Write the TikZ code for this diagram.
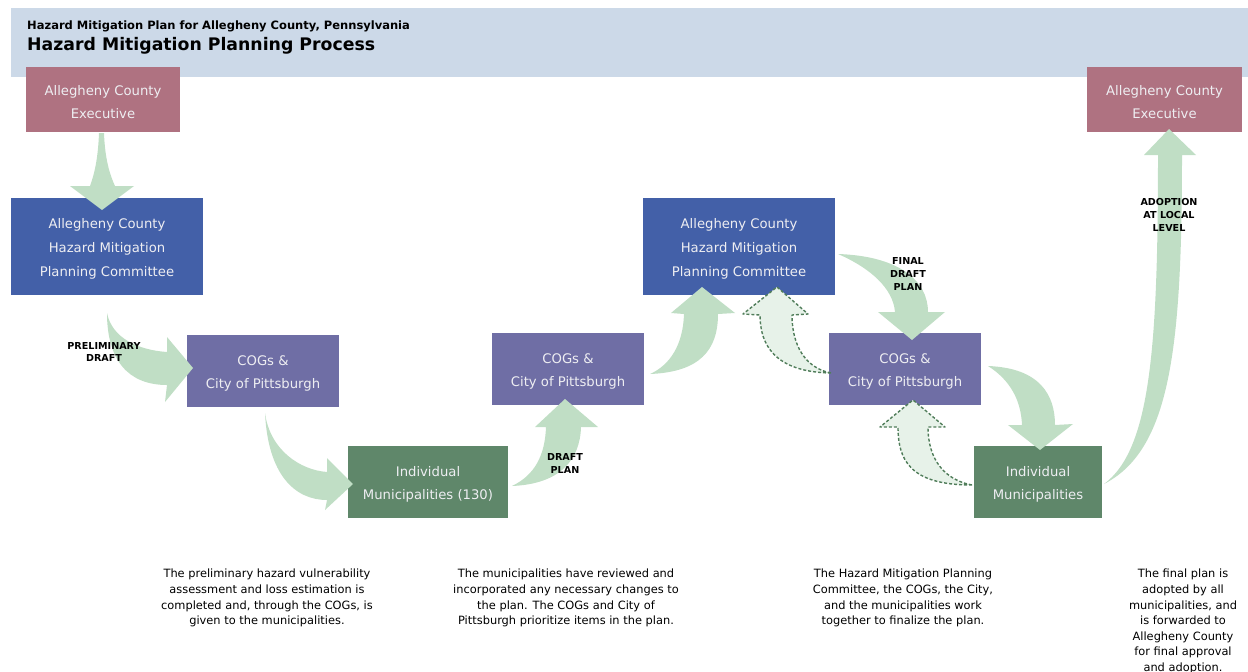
\documentclass[tikz,border=0pt]{standalone}
\usepackage{fontspec}
\setmainfont{DejaVu Sans}
\definecolor{headbg}{RGB}{204,217,232}
\definecolor{execc}{RGB}{175,114,129}
\definecolor{hmpcc}{RGB}{67,96,168}
\definecolor{cogsc}{RGB}{111,110,165}
\definecolor{munic}{RGB}{95,135,106}
\definecolor{flowc}{RGB}{192,222,197}
\definecolor{backfill}{RGB}{231,242,233}
\definecolor{backline}{RGB}{80,125,90}
\definecolor{boxtext}{RGB}{238,238,242}
\newcommand{\topstrut}{\rule{0pt}{15pt}}
\tikzset{
  box/.style={inner sep=0, text=boxtext, align=center, font=\fontsize{13.2}{23.7}\selectfont},
  flow/.style={fill=flowc, draw=none},
  back/.style={fill=backfill, draw=backline, line width=1.4pt, dash pattern=on 3pt off 2pt, line join=round},
  lbl/.style={font=\fontsize{9.6}{12.8}\selectfont\bfseries, align=center, inner sep=0},
  note/.style={font=\fontsize{11.4}{15.6}\selectfont, align=center, anchor=north, inner sep=0}
}
\begin{document}
\begin{tikzpicture}[x=1pt,y=-1pt]
\useasboundingbox (0,0) rectangle (1248,672);
% header
\fill[headbg] (11,8) rectangle (1248,77);
\node[anchor=west, inner sep=0, font=\fontsize{11.5}{13}\selectfont\bfseries] (subtitle) at (27,26) {Hazard Mitigation Plan for Allegheny County, Pennsylvania};
\node[anchor=west, inner sep=0, font=\fontsize{17.3}{20}\selectfont\bfseries] (title) at (27,46) {Hazard Mitigation Planning Process};
% boxes
\node[box, fill=execc, minimum width=154, minimum height=65] (exec1) at (103,99.5) {\topstrut Allegheny County\\Executive};
\node[box, fill=execc, minimum width=155, minimum height=65] (exec2) at (1164.5,99.5) {\topstrut Allegheny County\\Executive};
\node[box, fill=hmpcc, minimum width=192, minimum height=97] (hmpc1) at (107,246.5) {\topstrut Allegheny County\\Hazard Mitigation\\Planning Committee};
\node[box, fill=hmpcc, minimum width=192, minimum height=97] (hmpc2) at (739,246.5) {\topstrut Allegheny County\\Hazard Mitigation\\Planning Committee};
\node[box, fill=cogsc, minimum width=152, minimum height=72] (cogs1) at (263,371) {\topstrut COGs \&\\City of Pittsburgh};
\node[box, fill=cogsc, minimum width=152, minimum height=72] (cogs2) at (568,369) {\topstrut COGs \&\\City of Pittsburgh};
\node[box, fill=cogsc, minimum width=152, minimum height=72] (cogs3) at (905,369) {\topstrut COGs \&\\City of Pittsburgh};
\node[box, fill=munic, minimum width=160, minimum height=72] (muni1) at (428,482) {\topstrut Individual\\Municipalities (130)};
\node[box, fill=munic, minimum width=128, minimum height=72] (muni2) at (1038,482) {\topstrut Individual\\Municipalities};
% flow arrows
\fill[flow] (99,133) .. controls (98,160) and (94,175) .. (90,186) -- (70,186) -- (102,210) -- (134,186) -- (115,186) .. controls (110,175) and (105,160) .. (104,133) -- cycle;
\fill[flow] (107,313) .. controls (107,360) and (128,385) .. (167,385) -- (165,402) -- (193,368) -- (167,337) -- (167,352) .. controls (138,350) and (112,338) .. (107,313) -- cycle;
\fill[flow] (265,413) .. controls (268,475) and (295,500) .. (327,500) -- (325,510) -- (353,484) -- (327,458) -- (327,472) .. controls (300,470) and (270,450) .. (265,413) -- cycle;
\fill[flow] (512,486) .. controls (560,484) and (580,460) .. (581,427) -- (598,427) -- (565,399) -- (535,427) -- (546,427) .. controls (545,455) and (535,475) .. (512,486) -- cycle;
\fill[flow] (650,374) .. controls (700,372) and (718,350) .. (718,314) -- (735,313) -- (702,287) -- (671,313) -- (684,314) .. controls (683,345) and (670,365) .. (650,374) -- cycle;
\fill[flow] (838,254) .. controls (898,256) and (928,280) .. (928,312) -- (945,312) -- (912,340) -- (878,312) -- (895,312) .. controls (893,288) and (870,268) .. (838,254) -- cycle;
\fill[flow] (988,366) .. controls (1040,368) and (1055,395) .. (1055,425) -- (1073,424) -- (1040,450) -- (1008,425) -- (1022,425) .. controls (1021,400) and (1010,380) .. (988,366) -- cycle;
\fill[flow] (1104,484) .. controls (1170,450) and (1182,350) .. (1182,155) -- (1196,155) -- (1169,129) -- (1144,155) -- (1158,155) .. controls (1158,350) and (1150,450) .. (1104,484) -- cycle;
% feedback arrows
\filldraw[back] (831,373) .. controls (775,372) and (760,345) .. (760,315) -- (743,314) -- (777,287) -- (808,314) -- (792,315) .. controls (792,345) and (805,368) .. (831,373) -- cycle;
\filldraw[back] (972,485) .. controls (910,485) and (898,460) .. (898,427) -- (880,427) -- (913,400) -- (945,427) -- (928,427) .. controls (928,460) and (945,480) .. (972,485) -- cycle;
% arrow labels
\node[lbl] (l1) at (104,352) {PRELIMINARY\\DRAFT};
\node[lbl] (l2) at (565,463.5) {DRAFT\\PLAN};
\node[lbl] (l3) at (908,274) {FINAL\\DRAFT\\PLAN};
\node[lbl] (l4) at (1169,215) {ADOPTION\\AT LOCAL\\LEVEL};
% notes
\node[note] (n1) at (267,569) {The preliminary hazard vulnerability\\assessment and loss estimation is\\completed and, through the COGs, is\\given to the municipalities.};
\node[note] (n2) at (566,569) {The municipalities have reviewed and\\incorporated any necessary changes to\\the plan. The COGs and City of\\Pittsburgh prioritize items in the plan.};
\node[note] (n3) at (903,569) {The Hazard Mitigation Planning\\Committee, the COGs, the City,\\and the municipalities work\\together to finalize the plan.};
\node[note] (n4) at (1183,569) {The final plan is\\adopted by all\\municipalities, and\\is forwarded to\\Allegheny County\\for final approval\\and adoption.};
\end{tikzpicture}
\end{document}
